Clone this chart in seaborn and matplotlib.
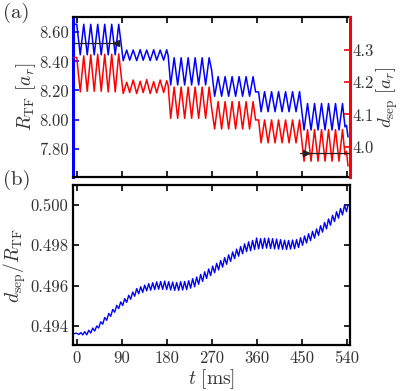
import numpy as np
import pandas as pd
import matplotlib
matplotlib.use("Agg")
import matplotlib.pyplot as plt
import seaborn as sns

# ---------------- data ----------------
# panel (a): shared sample times [ms]
a_times = [-7, 0, 7, 14, 21, 28, 35, 42, 49, 56, 63, 70, 77, 84,
           93, 100, 106, 113, 120, 127, 133, 140, 147, 154, 160, 167, 174, 180,
           183,
           188, 195, 202, 209, 216, 223, 230, 237, 244, 251, 258, 265,
           270, 276,
           283, 290, 297, 304, 311, 318, 325, 332, 339, 346, 353,
           358, 364, 369,
           376, 383, 390, 397, 404, 411, 418, 425, 432, 439, 446,
           455,
           462, 469, 476, 483, 490, 497, 504, 511, 518, 525, 532,
           537, 540, 543]

# R_TF [a_r] (left axis, blue)
r_tf = [8.655, 8.655, 8.445, 8.655, 8.445, 8.655, 8.445, 8.655, 8.445, 8.655, 8.445, 8.655, 8.445, 8.655,
        8.405, 8.478, 8.408, 8.478, 8.405, 8.480, 8.408, 8.478, 8.405, 8.480, 8.408, 8.478, 8.408, 8.480,
        8.440,
        8.238, 8.425, 8.238, 8.425, 8.238, 8.425, 8.238, 8.425, 8.238, 8.425, 8.238, 8.425,
        8.340, 8.160,
        8.295, 8.160, 8.295, 8.160, 8.295, 8.160, 8.295, 8.160, 8.295, 8.160, 8.295,
        8.190, 8.190, 8.054,
        8.192, 8.054, 8.192, 8.054, 8.192, 8.054, 8.192, 8.054, 8.192, 8.054, 8.192,
        7.928,
        8.110, 7.928, 8.110, 7.928, 8.110, 7.928, 8.110, 7.928, 8.110, 7.928, 8.110,
        7.950, 7.960, 7.880]

# d_sep [a_r] (right axis, red)
d_sep = [4.277, 4.277, 4.170, 4.282, 4.172, 4.285, 4.172, 4.287, 4.172, 4.287, 4.170, 4.287, 4.170, 4.288,
         4.165, 4.200, 4.168, 4.207, 4.165, 4.203, 4.168, 4.208, 4.165, 4.202, 4.167, 4.207, 4.168, 4.205,
         4.190,
         4.088, 4.185, 4.088, 4.185, 4.088, 4.185, 4.088, 4.185, 4.088, 4.185, 4.088, 4.185,
         4.120, 4.055,
         4.140, 4.055, 4.140, 4.055, 4.140, 4.055, 4.140, 4.055, 4.140, 4.055, 4.140,
         4.083, 4.083, 4.012,
         4.083, 4.012, 4.083, 4.012, 4.083, 4.012, 4.083, 4.012, 4.083, 4.012, 4.083,
         3.955,
         4.053, 3.955, 4.053, 3.955, 4.053, 3.955, 4.053, 3.955, 4.053, 3.955, 4.053,
         3.975, 3.985, 3.940]

# reference markers in (a)
ref_r_tf = 8.524
ref_d_sep = 3.982

# panel (b): d_sep / R_TF
ratio_times = [-7] + list(range(0, 541, 4)) + [543]
ratio = [0.49362,
         0.49364, 0.49358, 0.49367, 0.49356, 0.49372, 0.49356, 0.49379, 0.49365, 0.49390, 0.49375,
         0.49400, 0.49390, 0.49421, 0.49409, 0.49442, 0.49428, 0.49462, 0.49448, 0.49482, 0.49468,
         0.49502, 0.49486, 0.49519, 0.49501, 0.49535, 0.49517, 0.49552, 0.49532, 0.49568, 0.49547,
         0.49585, 0.49559, 0.49594, 0.49566, 0.49602, 0.49574, 0.49609, 0.49577, 0.49614, 0.49580,
         0.49618, 0.49582, 0.49620, 0.49581, 0.49622, 0.49580, 0.49619, 0.49578, 0.49617, 0.49576,
         0.49615, 0.49576, 0.49619, 0.49578, 0.49620, 0.49580, 0.49624, 0.49587, 0.49634, 0.49594,
         0.49642, 0.49606, 0.49655, 0.49620, 0.49668, 0.49635, 0.49682, 0.49649, 0.49696, 0.49663,
         0.49710, 0.49677, 0.49724, 0.49691, 0.49738, 0.49705, 0.49752, 0.49719, 0.49766, 0.49733,
         0.49780, 0.49745, 0.49793, 0.49757, 0.49806, 0.49768, 0.49816, 0.49772, 0.49823, 0.49778,
         0.49835, 0.49781, 0.49832, 0.49783, 0.49834, 0.49785, 0.49834, 0.49783, 0.49832, 0.49781,
         0.49830, 0.49780, 0.49827, 0.49779, 0.49824, 0.49778, 0.49823, 0.49780, 0.49825, 0.49782,
         0.49827, 0.49788, 0.49836, 0.49799, 0.49845, 0.49810, 0.49856, 0.49822, 0.49868, 0.49834,
         0.49880, 0.49848, 0.49896, 0.49864, 0.49912, 0.49880, 0.49929, 0.49898, 0.49947, 0.49916,
         0.49965, 0.49933, 0.49981, 0.49949, 0.49997, 0.49965,
         0.49998]

x_ticks = [0, 90, 180, 270, 360, 450, 540]
a_left_ticks = [7.80, 8.00, 8.20, 8.40, 8.60]
a_left_labels = ["7.80", "8.00", "8.20", "8.40", "8.60"]
a_right_ticks = [4.0, 4.1, 4.2, 4.3]
a_right_labels = ["4.0", "4.1", "4.2", "4.3"]
b_ticks = [0.494, 0.496, 0.498, 0.500]
b_labels = ["0.494", "0.496", "0.498", "0.500"]

# ---------------- style ----------------
sns.set_style("ticks")
plt.rcParams["font.family"] = ["cmr10", "DejaVu Serif"]
plt.rcParams["mathtext.fontset"] = "cm"
plt.rcParams["axes.formatter.use_mathtext"] = True
plt.rcParams["axes.unicode_minus"] = False

TXT = "#333333"
fig = plt.figure(figsize=(4.02, 3.91), dpi=100)
W, H = 402.0, 391.0
def rect(x0, y0, x1, y1):
    return [x0 / W, 1 - y1 / H, (x1 - x0) / W, (y1 - y0) / H]

ax = fig.add_axes(rect(73, 17, 350, 177))
axr = ax.twinx()
bx = fig.add_axes(rect(73, 185, 350, 345))

df_a = pd.DataFrame({"t": a_times, "r_tf": r_tf, "d_sep": d_sep})
df_b = pd.DataFrame({"t": ratio_times, "ratio": ratio})

sns.lineplot(data=df_a, x="t", y="r_tf", ax=ax, color="blue", lw=1.1,
             estimator=None, sort=False)
sns.lineplot(data=df_a, x="t", y="d_sep", ax=axr, color="red", lw=1.1,
             estimator=None, sort=False)
sns.lineplot(data=df_b, x="t", y="ratio", ax=bx, color="blue", lw=1.0,
             estimator=None, sort=False)

xlim = (-7.5, 547)
ax.set_xlim(*xlim)
axr.set_xlim(*xlim)
bx.set_xlim(*xlim)
ax.set_ylim(7.605, 8.705)
axr.set_ylim(3.906, 4.4025)
bx.set_ylim(0.49306, 0.50097)

# reference lines with arrows
ax.plot([-7.5, 84], [ref_r_tf, ref_r_tf], color="#222222", lw=0.9, zorder=5)
ax.plot([79], [ref_r_tf], marker="<", color="#222222", ms=4, zorder=6)
axr.plot([446, 547], [ref_d_sep, ref_d_sep], color="#222222", lw=0.9, zorder=5)
axr.plot([459], [ref_d_sep], marker=">", color="#222222", ms=4, zorder=6)

# ticks
for a in (ax, bx):
    a.set_xticks(x_ticks)
ax.set_xticklabels([])
bx.set_xticklabels([str(v) for v in x_ticks])
ax.set_yticks(a_left_ticks)
ax.set_yticklabels(a_left_labels)
axr.set_yticks(a_right_ticks)
axr.set_yticklabels(a_right_labels)
bx.set_yticks(b_ticks)
bx.set_yticklabels(b_labels)

ax.tick_params(axis="x", direction="in", top=True, bottom=True, length=4,
               width=1.2, color="black")
ax.tick_params(axis="y", direction="in", length=4, width=1.2, colors="blue",
               labelcolor=TXT, labelsize=12, pad=3)
axr.tick_params(axis="y", direction="in", length=4, width=1.2, colors="red",
                labelcolor=TXT, labelsize=12, pad=2)
bx.tick_params(axis="both", direction="in", top=True, right=True, length=4,
               width=1.2, color="black", labelcolor=TXT, labelsize=12)
bx.tick_params(axis="x", pad=4)

# spines
for s in ("top", "bottom"):
    ax.spines[s].set_linewidth(1.6)
    ax.spines[s].set_color("black")
    axr.spines[s].set_visible(False)
ax.spines["left"].set_color("blue")
ax.spines["left"].set_linewidth(2.2)
ax.spines["right"].set_visible(False)
axr.spines["left"].set_visible(False)
axr.spines["right"].set_color("red")
axr.spines["right"].set_linewidth(2.2)
for s in bx.spines.values():
    s.set_linewidth(1.6)
    s.set_color("black")

# labels
ax.set_xlabel("")
ax.set_ylabel(r"$R_{\rm TF}\ [a_r]$", fontsize=14, color=TXT, labelpad=1)
axr.set_ylabel(r"$d_{\rm sep}\ [a_r]$", fontsize=13.5, color=TXT, labelpad=0)
bx.set_ylabel(r"$d_{\rm sep}/R_{\rm TF}$", fontsize=14, color=TXT, labelpad=1)
bx.set_xlabel(r"$t\ [\mathrm{ms}]$", fontsize=14, color=TXT, labelpad=1)

fig.text(3 / W, 1 - 12.5 / H, "(a)", fontsize=15, color=TXT, va="center", ha="left")
fig.text(3 / W, 1 - 180 / H, "(b)", fontsize=15, color=TXT, va="center", ha="left")

fig.savefig("out.png", dpi=100, facecolor="white")
